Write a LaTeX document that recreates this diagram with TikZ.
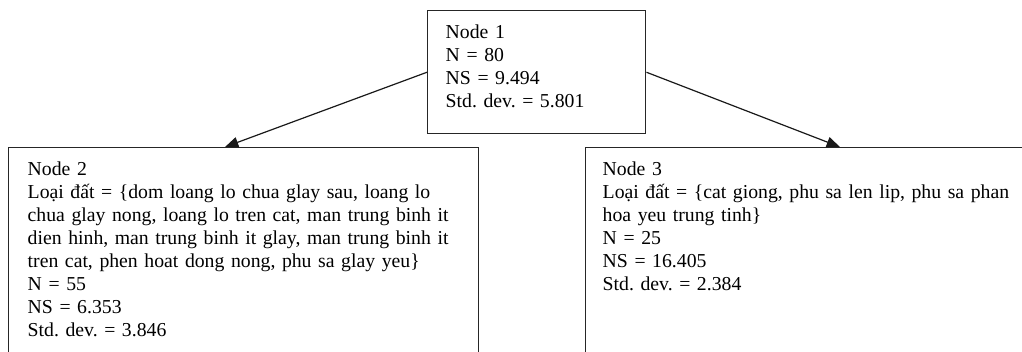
\documentclass[tikz,border=0pt]{standalone}
\usepackage{fontspec}
\setmainfont[WordSpace=0.8]{Liberation Serif}
\usetikzlibrary{arrows.meta}
\begin{document}
\begin{tikzpicture}[x=0.75pt,y=-0.75pt,
  box/.style={draw=black!85, line width=1.1pt, anchor=north west, align=left,
    inner ysep=10.5pt, font=\fontsize{14.8pt}{17.25pt}\selectfont\frenchspacing},
  link/.style={draw=black!90, line width=0.9pt, -{Triangle[length=10pt,width=8pt]}}]
\useasboundingbox (0,0) rectangle (1022,351);
\clip (0,0) rectangle (1022,351);
\node[box, inner xsep=13.5pt, text width=136.5pt, text depth=61pt] (n1) at (427,10)
  {Node 1\\N = 80\\NS = 9.494\\Std. dev. = 5.801};
\node[box, inner xsep=14.25pt, text width=324pt, text depth=220pt] (n2) at (8,147)
  {Node 2\\
   Loại đất = \{dom loang lo chua glay sau, loang lo\\
   chua glay nong, loang lo tren cat, man trung binh it\\
   dien hinh, man trung binh it glay, man trung binh it\\
   tren cat, phen hoat dong nong, phu sa glay yeu\}\\
   N = 55\\NS = 6.353\\Std. dev. = 3.846};
\node[box, inner xsep=12.75pt, text width=450pt, text depth=220pt] (n3) at (585,147)
  {Node 3\\
   Loại đất = \{cat giong, phu sa len lip, phu sa phan\\
   hoa yeu trung tinh\}\\
   N = 25\\NS = 16.405\\Std. dev. = 2.384};
\draw[link] (n1.west) -- ([xshift=162.75pt]n2.north west);
\draw[link] (n1.east) -- ([xshift=191.25pt]n3.north west);
\end{tikzpicture}
\end{document}
